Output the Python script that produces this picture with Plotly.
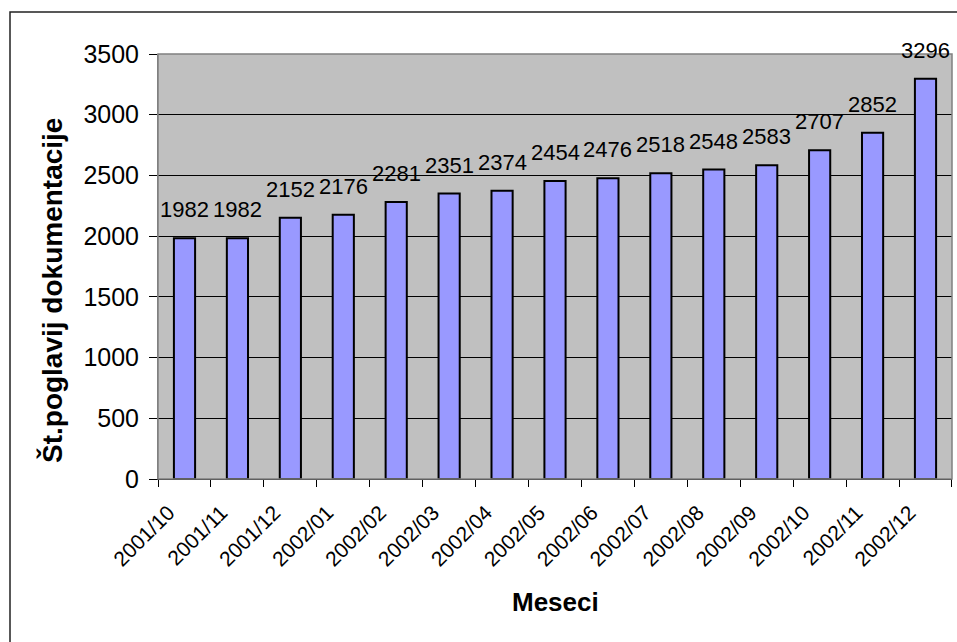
import plotly.graph_objects as go

# Monthly count of documentation chapters
months = ["2001/10", "2001/11", "2001/12", "2002/01", "2002/02", "2002/03",
          "2002/04", "2002/05", "2002/06", "2002/07", "2002/08", "2002/09",
          "2002/10", "2002/11", "2002/12"]
chapters = [1982, 1982, 2152, 2176, 2281, 2351, 2374, 2454, 2476, 2518,
            2548, 2583, 2707, 2852, 3296]
y_ticks = [0, 500, 1000, 1500, 2000, 2500, 3000, 3500]

W, H = 957, 642
ML, MR, MT, MB = 158, 5, 54, 163
PW, PH = W - ML - MR, H - MT - MB


def px_x(p):
    return (p - ML) / PW


def px_y(p):
    return (H - MB - p) / PH


fig = go.Figure(go.Bar(
    x=months, y=chapters, width=0.4,
    marker=dict(color="#9999FF", line=dict(color="black", width=2)),
))

annotations = [
    dict(x=m, y=v, text=str(v), showarrow=False, yanchor="bottom",
         yshift=14, font=dict(family="Liberation Sans, Arial", size=22, color="black"))
    for m, v in zip(months, chapters)
]
annotations += [
    dict(xref="paper", yref="paper", x=px_x(555), y=px_y(602), text="<b>Meseci</b>",
         showarrow=False, xanchor="center", yanchor="middle",
         font=dict(family="Liberation Sans, Arial", size=26, color="black")),
    dict(xref="paper", yref="paper", x=px_x(52), y=px_y(291),
         text="<b>Št.poglavij dokumentacije</b>", textangle=-90,
         showarrow=False, xanchor="center", yanchor="middle",
         font=dict(family="Liberation Sans, Arial", size=28, color="black")),
]

shapes = [
    # outer chart frame
    dict(type="rect", xref="paper", yref="paper",
         x0=px_x(10), x1=px_x(975), y0=px_y(665), y1=px_y(12),
         line=dict(color="#222222", width=1.5), layer="below"),
    # plot area border
    dict(type="rect", xref="paper", yref="paper", x0=0, x1=1, y0=0, y1=1,
         line=dict(color="#808080", width=1.5), layer="above"),
]

fig.update_layout(
    width=W, height=H,
    margin=dict(l=ML, r=MR, t=MT, b=MB, pad=0),
    paper_bgcolor="white", plot_bgcolor="#C0C0C0",
    showlegend=False,
    bargap=0.6,
    annotations=annotations,
    shapes=shapes,
    font=dict(family="Liberation Sans, Arial", color="black"),
)
fig.update_xaxes(
    type="category", tickangle=-45, ticks="outside", ticklen=7, tickcolor="black",
    tickson="boundaries", showline=True, linecolor="black", linewidth=1,
    showgrid=False, tickfont=dict(size=21, color="black"),
    ticklabelstandoff=12, ticklabelshift=-16,
)
fig.update_yaxes(
    range=[0, 3500], tickvals=y_ticks, ticks="outside", ticklen=8, tickcolor="black",
    showgrid=True, gridcolor="black", gridwidth=1, zeroline=False,
    showline=True, linecolor="#808080", linewidth=1,
    tickfont=dict(size=25, color="black"), ticklabelstandoff=5,
)

fig.write_html("out.html")
